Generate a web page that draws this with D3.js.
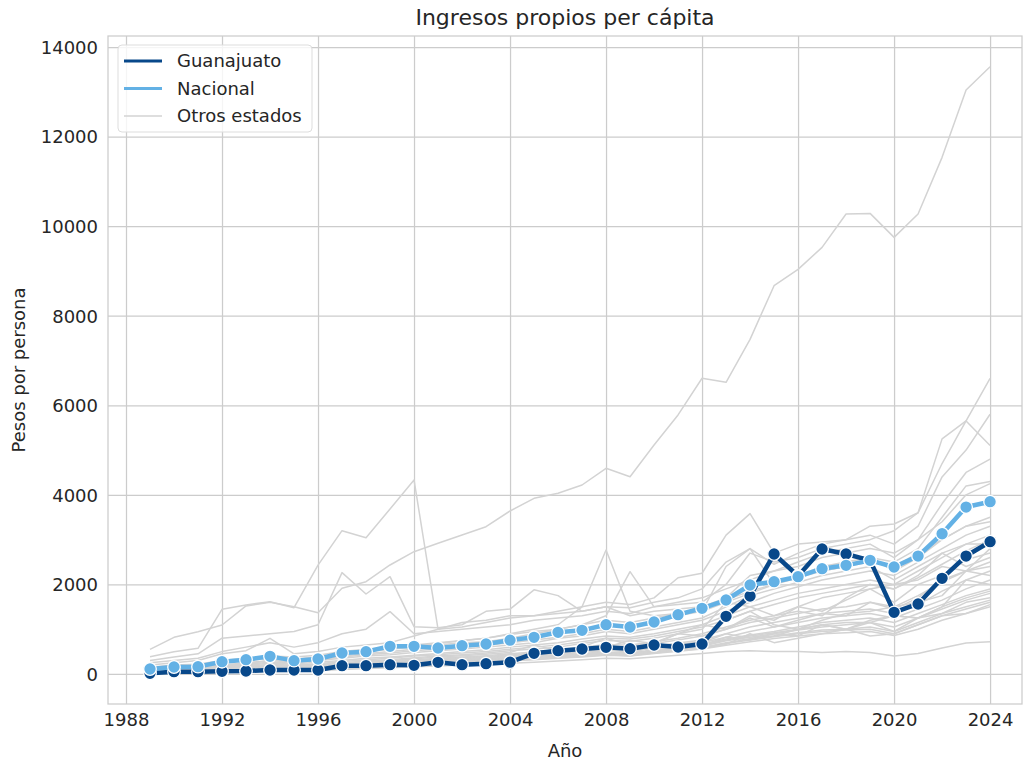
<!DOCTYPE html>
<html>
<head>
<meta charset="utf-8">
<script src="https://cdn.jsdelivr.net/npm/d3@7"></script>
<style>
	body { margin: 0; background: #fff; }
	text { font-family: "DejaVu Sans", sans-serif; fill: #262626; }
</style>
</head>
<body>
<svg id="chart" width="1024" height="767"></svg>
<script>
// Years and series
var years = d3.range(1989, 2025);

var guanajuato = [15, 52, 52, 60, 67, 89, 89, 89, 186, 186, 208, 193, 260, 208, 231, 264,
	462, 520, 558, 596, 565, 647, 603, 670, 1288, 1741, 2679, 2188, 2791, 2679, 2538, 1377,
	1563, 2136, 2634, 2954];

var nacional = [112, 156, 164, 275, 320, 394, 298, 335, 469, 499, 618, 618, 580, 633, 670, 756,
	819, 931, 975, 1101, 1049, 1161, 1324, 1467, 1652, 1987, 2061, 2173, 2351, 2426, 2538, 2389,
	2634, 3132, 3728, 3847];

// Other states (one array per state, 1989-2024)
var otros = [
	[551, 819, 945, 1094, 1520, 1600, 1503, 1369, 1913, 2061, 2434, 2731, 2918, 3104, 3289, 3640, 3923, 4035, 4220, 4593, 4406, 5114, 5784, 6603, 6512, 7473, 8670, 9035, 9526, 10270, 10285, 9750, 10270, 11536, 13039, 13559],
	[387, 498, 573, 1445, 1541, 1615, 1480, 2430, 3200, 3044, 3685, 4332, 1000, 1050, 1150, 1250, 1300, 1400, 1500, 1600, 1550, 1700, 2150, 2250, 3100, 3580, 2700, 2900, 2950, 3000, 3300, 3350, 3600, 5250, 5650, 5100],
	[300, 380, 450, 800, 850, 900, 950, 1100, 2263, 1786, 2173, 1057, 1030, 1100, 1400, 1450, 1880, 1750, 1400, 1500, 1480, 1600, 1700, 1900, 2500, 2800, 2450, 2700, 2900, 3000, 3100, 2900, 3300, 4400, 5000, 5800],
	[250, 300, 350, 500, 600, 700, 600, 700, 900, 1000, 1392, 900, 950, 1000, 1050, 1100, 1200, 1250, 1300, 1400, 1350, 1500, 1550, 1600, 2000, 2700, 2500, 2600, 2800, 2900, 3000, 3200, 3600, 4700, 5650, 6600],
	[200, 250, 300, 450, 520, 797, 450, 500, 600, 650, 700, 850, 1000, 1150, 1200, 1300, 1300, 1350, 1400, 1500, 1300, 1400, 1450, 1500, 1700, 2200, 2300, 2400, 2600, 2700, 2800, 2700, 3000, 3800, 4500, 4800],
	[150, 200, 220, 300, 350, 400, 380, 420, 500, 550, 600, 650, 700, 750, 800, 900, 1000, 1100, 1500, 2769, 1400, 1300, 1350, 1400, 1600, 1800, 2000, 2200, 2400, 2500, 2600, 2500, 2800, 3500, 4200, 4300],
	[120, 150, 180, 250, 300, 350, 320, 380, 450, 500, 550, 600, 650, 700, 720, 800, 900, 1000, 1100, 1300, 2285, 1500, 1600, 1700, 1900, 2100, 2300, 2500, 2700, 2800, 2900, 2600, 3000, 3400, 4000, 4250],
	[100, 130, 150, 200, 250, 300, 280, 320, 400, 450, 500, 550, 600, 650, 700, 750, 850, 900, 1000, 1100, 1050, 1200, 1300, 1400, 2400, 2800, 2000, 2200, 2300, 2400, 2500, 2400, 2700, 3000, 3300, 3500],
	[90, 110, 130, 180, 220, 260, 250, 300, 350, 400, 430, 480, 520, 560, 600, 650, 700, 800, 850, 950, 900, 1000, 1100, 1200, 1400, 1600, 1800, 1950, 2100, 2200, 2300, 2200, 2500, 2800, 3100, 3300],
	[80, 100, 120, 160, 200, 240, 230, 260, 300, 350, 380, 420, 460, 500, 540, 600, 650, 700, 780, 850, 820, 900, 1000, 1100, 1300, 1500, 1650, 1800, 1900, 2000, 2100, 2000, 2300, 2600, 2900, 3100],
	[70, 90, 110, 150, 180, 210, 200, 230, 280, 320, 350, 400, 430, 470, 500, 550, 600, 650, 720, 800, 780, 850, 950, 1050, 1200, 1400, 1550, 1700, 1800, 1900, 2000, 1900, 2150, 2450, 2750, 3000],
	[60, 80, 100, 130, 160, 190, 180, 210, 250, 290, 320, 360, 400, 430, 470, 520, 560, 600, 680, 750, 730, 800, 900, 1000, 1600, 1500, 1300, 1500, 1700, 1800, 1900, 2000, 2100, 2400, 2300, 2800],
	[60, 75, 90, 120, 150, 180, 170, 200, 240, 270, 300, 340, 380, 410, 440, 480, 650, 520, 600, 800, 650, 700, 900, 1100, 1000, 1300, 1200, 1500, 1400, 1650, 1900, 1600, 2000, 2200, 2550, 2700],
	[50, 70, 85, 110, 140, 170, 160, 190, 230, 260, 290, 320, 350, 380, 410, 450, 490, 540, 600, 660, 640, 720, 800, 900, 1050, 1200, 1300, 1400, 1300, 1700, 2000, 1900, 2200, 2700, 2400, 2600],
	[50, 65, 80, 100, 130, 160, 150, 180, 210, 240, 270, 300, 330, 360, 390, 430, 470, 510, 570, 620, 600, 680, 760, 850, 1000, 1150, 1250, 1350, 1450, 1500, 1600, 1500, 1750, 2050, 2300, 2500],
	[45, 60, 75, 95, 120, 150, 140, 170, 200, 230, 260, 290, 320, 350, 380, 410, 450, 490, 540, 600, 750, 680, 900, 850, 1000, 1250, 1050, 1200, 1350, 1300, 1600, 1450, 1700, 2100, 2300, 2400],
	[40, 55, 70, 90, 110, 140, 130, 160, 190, 220, 250, 280, 310, 340, 370, 400, 440, 480, 520, 570, 550, 620, 690, 760, 900, 1050, 1150, 1250, 1350, 1400, 1450, 1350, 1550, 1850, 2100, 2300],
	[40, 50, 65, 85, 100, 130, 120, 150, 180, 210, 240, 270, 300, 330, 360, 390, 420, 460, 500, 550, 530, 600, 660, 730, 1200, 1400, 1100, 1000, 1200, 1350, 1400, 1500, 1600, 1750, 2300, 2200],
	[35, 45, 60, 80, 95, 120, 110, 140, 170, 200, 230, 260, 290, 320, 350, 380, 410, 440, 480, 530, 510, 580, 640, 700, 820, 950, 1050, 1150, 1250, 1300, 1350, 1250, 1450, 1650, 1900, 2100],
	[35, 45, 55, 75, 90, 110, 100, 130, 160, 190, 220, 250, 280, 310, 340, 370, 450, 380, 420, 550, 480, 600, 560, 700, 900, 800, 850, 1000, 1100, 1000, 1200, 1300, 1250, 1500, 2100, 2000],
	[30, 40, 50, 70, 85, 100, 95, 120, 150, 180, 210, 240, 270, 300, 330, 360, 390, 420, 450, 490, 470, 540, 600, 660, 780, 870, 950, 1050, 1150, 1200, 1250, 1150, 1350, 1550, 1750, 1900],
	[30, 40, 50, 65, 80, 95, 90, 115, 140, 170, 200, 230, 260, 290, 320, 350, 380, 410, 440, 480, 460, 520, 580, 640, 760, 850, 920, 1000, 1100, 1150, 1150, 1300, 1250, 1500, 1700, 1850],
	[25, 35, 45, 60, 75, 90, 85, 110, 135, 160, 190, 220, 250, 280, 310, 340, 370, 400, 430, 470, 450, 510, 560, 620, 740, 820, 900, 980, 1050, 1100, 1150, 1050, 1250, 1450, 1650, 1800],
	[25, 35, 45, 60, 70, 85, 80, 105, 130, 155, 180, 210, 240, 270, 300, 330, 360, 390, 420, 460, 440, 500, 550, 640, 820, 760, 900, 850, 1100, 1000, 1150, 950, 1250, 1350, 1600, 1700],
	[20, 30, 40, 55, 65, 80, 75, 100, 125, 150, 175, 200, 230, 260, 290, 320, 350, 380, 410, 450, 430, 490, 540, 590, 700, 780, 850, 920, 980, 1000, 1050, 950, 1150, 1350, 1500, 1650],
	[20, 30, 40, 50, 60, 75, 70, 95, 120, 145, 170, 195, 220, 250, 280, 310, 340, 600, 450, 440, 420, 480, 530, 580, 680, 760, 830, 900, 950, 980, 1000, 900, 1100, 1300, 1450, 1600],
	[20, 25, 35, 45, 55, 70, 65, 90, 115, 140, 165, 190, 215, 245, 275, 300, 330, 360, 390, 430, 410, 470, 520, 570, 660, 900, 700, 800, 900, 1000, 850, 900, 1100, 1300, 1350, 1550],
	[15, 25, 30, 40, 50, 65, 60, 85, 110, 135, 160, 185, 210, 240, 270, 295, 320, 350, 380, 420, 400, 460, 510, 560, 640, 720, 790, 850, 900, 920, 950, 860, 1000, 1200, 1350, 1500],
	[15, 20, 30, 40, 50, 60, 55, 80, 100, 120, 140, 160, 180, 200, 220, 240, 260, 290, 320, 350, 340, 380, 420, 460, 500, 520, 500, 500, 480, 500, 480, 400, 460, 580, 690, 722],
	[100, 120, 140, 190, 230, 300, 270, 320, 380, 430, 470, 520, 560, 600, 640, 700, 760, 820, 900, 1000, 950, 1050, 1150, 1250, 1500, 1750, 1900, 2050, 2200, 2300, 2400, 2100, 2400, 2700, 2900, 2900],
	[150, 180, 200, 260, 300, 350, 330, 380, 450, 500, 560, 620, 680, 740, 800, 880, 950, 1000, 1100, 1200, 1150, 1250, 1350, 1450, 1650, 1850, 2000, 2150, 2300, 2400, 2600, 2300, 2600, 3000, 3300, 3400]
];

var yTicks = d3.range(0, 14001, 2000);
var xTicks = d3.range(1988, 2025, 4);

var colGto = "#08488a";
var colNac = "#63b1e5";
var colOtros = "#d3d3d3";

var svg = d3.select("#chart");

// Plot area
var plot = { left: 108, right: 1022, top: 36, bottom: 704 };

var x = d3.scaleLinear()
	.domain([1987.25, 2025.33])
	.range([plot.left, plot.right]);

var y = d3.scaleLinear()
	.domain([-670, 14246])
	.range([plot.bottom, plot.top]);

// Grid
svg.append("g")
	.attr("transform", "translate(0," + plot.bottom + ")")
	.call(d3.axisBottom(x).tickValues(xTicks).tickSize(-(plot.bottom - plot.top)).tickFormat(d3.format("d")))
	.call(function(g) {
		g.select(".domain").remove();
		g.selectAll(".tick line").attr("stroke", "#cccccc").attr("stroke-width", 1.25);
		g.selectAll(".tick text").attr("y", 9).attr("dy", "0.71em").style("font-size", "18px");
	});

svg.append("g")
	.attr("transform", "translate(" + plot.left + ",0)")
	.call(d3.axisLeft(y).tickValues(yTicks).tickSize(-(plot.right - plot.left)).tickFormat(d3.format("d")))
	.call(function(g) {
		g.select(".domain").remove();
		g.selectAll(".tick line").attr("stroke", "#cccccc").attr("stroke-width", 1.25);
		g.selectAll(".tick text").attr("x", -10).attr("dy", "0.35em").style("font-size", "18px");
	});

// Frame
svg.append("rect")
	.attr("x", plot.left)
	.attr("y", plot.top)
	.attr("width", plot.right - plot.left)
	.attr("height", plot.bottom - plot.top)
	.attr("fill", "none")
	.attr("stroke", "#cccccc")
	.attr("stroke-width", 1.25);

var line = d3.line()
	.x(function(d, i) { return x(years[i]); })
	.y(function(d) { return y(d); });

// Other states
svg.append("g")
	.selectAll("path")
	.data(otros)
	.enter().append("path")
	.attr("d", line)
	.attr("fill", "none")
	.attr("stroke", colOtros)
	.attr("stroke-width", 1.5)
	.attr("stroke-linejoin", "round");

// Guanajuato and national lines with markers
function drawSeries(values, color) {
	var g = svg.append("g");
	g.append("path")
		.attr("d", line(values))
		.attr("fill", "none")
		.attr("stroke", color)
		.attr("stroke-width", 4.5)
		.attr("stroke-linejoin", "round");
	g.selectAll("circle")
		.data(values)
		.enter().append("circle")
		.attr("cx", function(d, i) { return x(years[i]); })
		.attr("cy", function(d) { return y(d); })
		.attr("r", 6.3)
		.attr("fill", color)
		.attr("stroke", "#fff")
		.attr("stroke-width", 1.3);
}

drawSeries(guanajuato, colGto);
drawSeries(nacional, colNac);

// Titles
svg.append("text")
	.attr("x", (plot.left + plot.right) / 2)
	.attr("y", 25)
	.attr("text-anchor", "middle")
	.style("font-size", "22px")
	.text("Ingresos propios per cápita");

svg.append("text")
	.attr("x", (plot.left + plot.right) / 2)
	.attr("y", 757)
	.attr("text-anchor", "middle")
	.style("font-size", "18px")
	.text("Año");

svg.append("text")
	.attr("transform", "translate(25," + ((plot.top + plot.bottom) / 2) + ") rotate(-90)")
	.attr("text-anchor", "middle")
	.style("font-size", "18px")
	.text("Pesos por persona");

// Legend
var legendItems = [
	{ label: "Guanajuato", color: colGto, width: 3 },
	{ label: "Nacional", color: colNac, width: 3 },
	{ label: "Otros estados", color: colOtros, width: 1.5 }
];

var legend = svg.append("g")
	.attr("transform", "translate(118,45)");

legend.append("rect")
	.attr("width", 194)
	.attr("height", 87)
	.attr("rx", 4)
	.attr("fill", "#fff")
	.attr("fill-opacity", 0.8)
	.attr("stroke", "#dddddd");

var entry = legend.selectAll("g.entry")
	.data(legendItems)
	.enter().append("g")
	.attr("class", "entry")
	.attr("transform", function(d, i) { return "translate(0," + (16 + i * 27.5) + ")"; });

entry.append("line")
	.attr("x1", 6)
	.attr("x2", 44)
	.attr("stroke", function(d) { return d.color; })
	.attr("stroke-width", function(d) { return d.width; });

entry.append("text")
	.attr("x", 59)
	.attr("dy", "0.35em")
	.style("font-size", "18px")
	.text(function(d) { return d.label; });
</script>
</body>
</html>
